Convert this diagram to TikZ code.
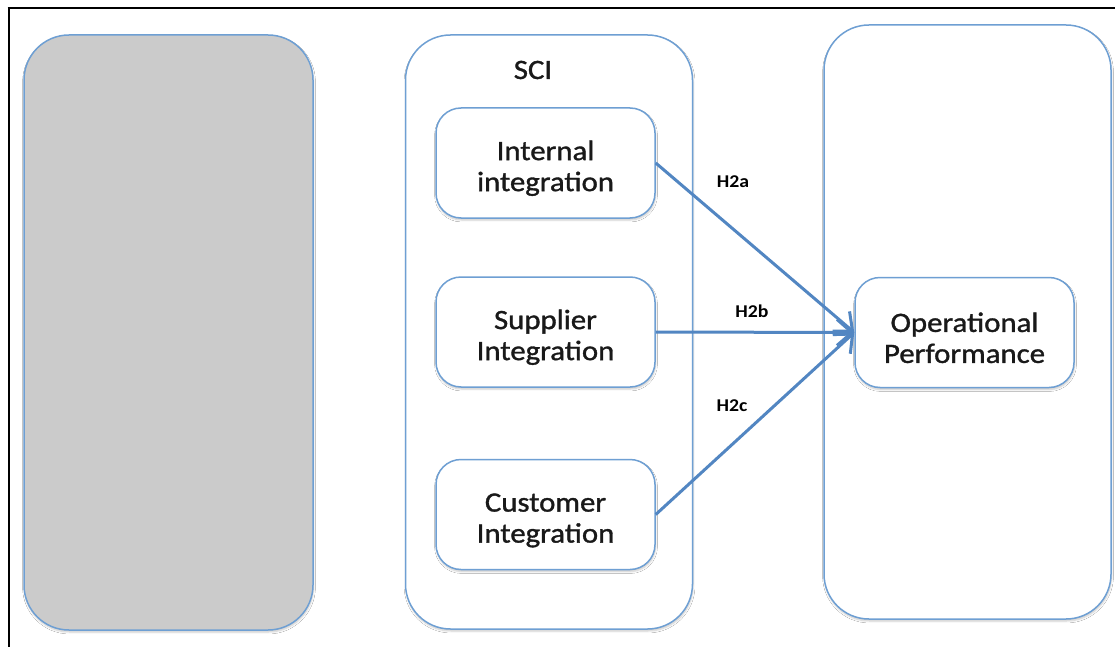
\documentclass[tikz,border=0pt]{standalone}
\usepackage{fontspec}
\setmainfont{Carlito}[FakeStretch=1.1]
\usetikzlibrary{arrows.meta,shadows.blur}
\definecolor{boxline}{HTML}{6E9FD3}
\definecolor{arrowblue}{HTML}{5286C2}
\definecolor{panelgray}{HTML}{CBCBCB}
% strut that pushes a two-line label slightly below the box centre
\newcommand{\toplift}{\rule{0pt}{30pt}}
\begin{document}
\begin{tikzpicture}[x=1pt,y=-1pt,
  softshadow/.style={blur shadow={shadow xshift=0.5pt,shadow yshift=-2pt,shadow blur steps=5,shadow opacity=22}},
  panel/.style={draw=boxline, line width=1.5pt, rounded corners=45pt, inner sep=0pt,
    minimum width=287pt, minimum height=594pt, softshadow},
  factor/.style={draw=boxline, line width=1.5pt, rounded corners=25pt, fill=white, inner sep=0pt,
    minimum width=219pt, minimum height=110pt, align=center,
    font=\fontsize{28}{31}\selectfont\addfontfeature{FakeBold=1.2},
    text=black!90, softshadow},
  hyp/.style={font=\fontsize{18}{20}\selectfont\bfseries, inner sep=0pt},
  link/.style={draw=arrowblue, line width=3pt, -{Straight Barb[length=15pt,width=26pt,line width=3pt]}}]
\useasboundingbox (0,0) rectangle (1115,647);
\fill[white] (0,0) rectangle (1115,647);
% frame edges
\draw[line width=2pt] (7.5,8.5) -- (1115,8.5);
\draw[line width=2pt] (8.5,7.5) -- (8.5,647);

% three columns
\node[panel, fill=panelgray, minimum width=289pt, minimum height=595pt] (prior) at (168.5,332.5) {};
\node[panel, fill=white] (sci) at (549,332) {};
\node[panel, fill=white] (outcome) at (967.5,322) {};

\node[font=\fontsize{28}{31}\selectfont\addfontfeature{FakeBold=1.2}, text=black!90, inner sep=0pt] (scititle) at (533,70) {SCI};

% integration dimensions
\node[factor] (ii) at (545.5,163) {\toplift Internal\\integration};
\node[factor] (si) at (545.5,332) {\toplift Supplier\\Integration};
\node[factor] (ci) at (545.5,514.5) {\toplift Customer\\Integration};

% outcome
\node[factor] (op) at (964.5,332.5) {\toplift Operational\\Performance};

% hypotheses
\draw[link] (ii.east) -- (op.west);
\draw[link] (si.east) -- (op.west);
\draw[link] (ci.east) -- (op.west);
\node[hyp] (h2a) at (733,182) {H2a};
\node[hyp] (h2b) at (752,311) {H2b};
\node[hyp] (h2c) at (732,406) {H2c};
\end{tikzpicture}
\end{document}
